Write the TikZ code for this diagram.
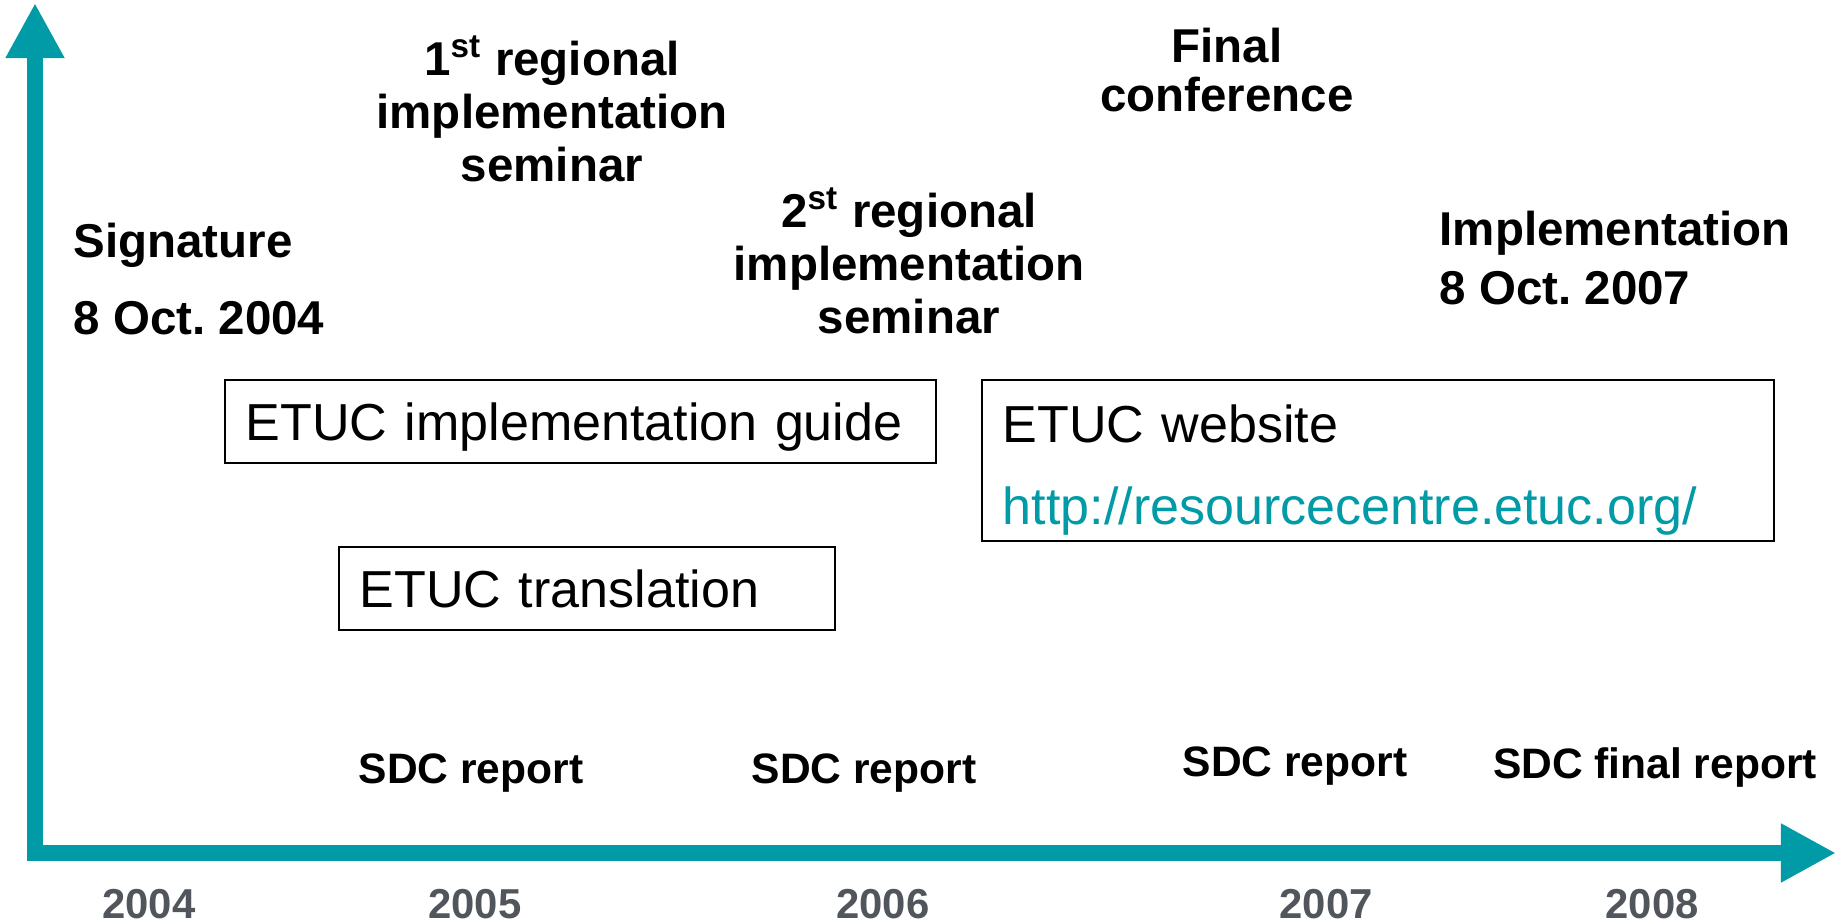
\documentclass[tikz,border=0pt]{standalone}
\usepackage{fontspec}
\setmainfont{Liberation Sans}
\frenchspacing
\usetikzlibrary{arrows.meta}
\definecolor{etucteal}{RGB}{0,155,166}
\definecolor{yeargray}{RGB}{80,86,91}

\begin{document}
\begin{tikzpicture}[x=0.01cm,y=-0.01cm,
  axis/.style={line width=4.55pt,color=etucteal,line join=miter,
    {Triangle[length=0.55cm,width=0.55cm]}-{Triangle[length=0.55cm,width=0.55cm]}},
  year/.style={text=yeargray,font=\bfseries\fontsize{11.9}{14}\selectfont},
  report/.style={font=\bfseries\fontsize{12.1}{14}\selectfont},
  event/.style={font=\bfseries\fontsize{13.5}{15.1}\selectfont,align=center,inner sep=0pt},
  tool/.style={draw,line width=0.7pt,align=left,inner xsep=0.21cm,inner ysep=0pt,
    font=\fontsize{14.8}{23.2}\selectfont}]
\useasboundingbox (0,0) rectangle (1839,922);
% time axes
\coordinate (ytip) at (35,3);
\coordinate (origin) at (35,853);
\coordinate (xtip) at (1836,853);
\draw[axis] (ytip) -- (origin) -- (xtip);
% years
\node[year] (y2004) at (149,904) {2004};
\node[year] (y2005) at (475,904) {2005};
\node[year] (y2006) at (883,904) {2006};
\node[year] (y2007) at (1326,904) {2007};
\node[year] (y2008) at (1652,904) {2008};
% reports
\node[report] (sdc1) at (471,773) {SDC report};
\node[report] (sdc2) at (864,773) {SDC report};
\node[report] (sdc3) at (1295,766) {SDC report};
\node[report] (sdcfinal) at (1655,768) {SDC final report};
% events
\node[event,align=left,anchor=west,font=\bfseries\fontsize{13.5}{21.9}\selectfont] (signature) at (73,279) {Signature\\8 Oct. 2004};
\node[event] (seminar1) at (552,109) {1\textsuperscript{st} regional\\implementation\\seminar};
\node[event] (seminar2) at (909,261) {2\textsuperscript{st} regional\\implementation\\seminar};
\node[event,font=\bfseries\fontsize{13.5}{14}\selectfont] (final) at (1227,70) {Final\\conference};
\node[event,align=left,anchor=west,font=\bfseries\fontsize{13.5}{16.6}\selectfont] (implementation) at (1439,258) {Implementation\\8 Oct. 2007};
% tools
\node[tool,text depth=0pt,text width=6.69cm,minimum height=0.83cm] (guide) at (580.5,421.5) {ETUC implementation guide};
\node[tool,text depth=0pt,text width=4.54cm,minimum height=0.83cm] (translation) at (587,588.5) {ETUC translation};
\node[tool,text width=7.50cm,minimum height=1.61cm] (website) at (1378,460.5) {\rule{0pt}{16pt}ETUC website\\\textcolor{etucteal}{http://resourcecentre.etuc.org/}};
\end{tikzpicture}
\end{document}
